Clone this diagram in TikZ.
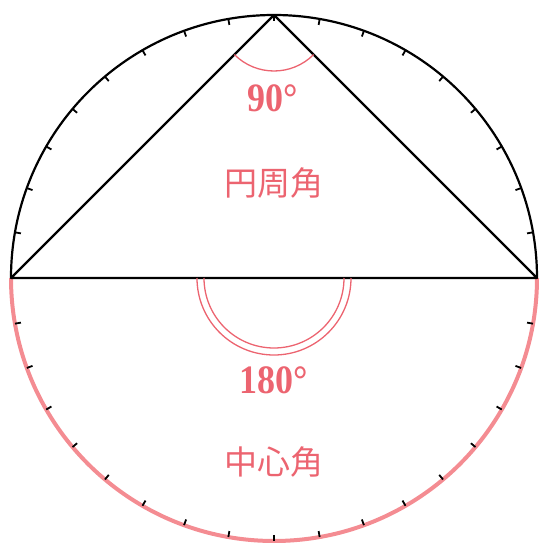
\documentclass[tikz,border=0pt]{standalone}
\usepackage{fontspec}
\setmainfont{Liberation Serif}
\newfontfamily\jpfont{Noto Sans CJK JP}
\definecolor{angred}{RGB}{236,100,112}
\definecolor{arcred}{RGB}{244,140,146}
\begin{document}
\begin{tikzpicture}[x=1pt, y=1pt,
  rim/.style={draw=black, line width=2.2pt, line join=round},
  dial/.style={draw=black, line width=1.8pt},
  angarc/.style={draw=angred, line width=1.3pt},
  lbl/.style={text=angred, font=\fontsize{36}{36}\selectfont\bfseries, yscale=1.12, transform shape},
  jp/.style={text=angred, font=\fontsize{33}{33}\selectfont\jpfont}
]
\useasboundingbox (0,0) rectangle (541,544);
\coordinate (O) at (274,266);
\coordinate (A) at (11,266);
\coordinate (B) at (537,266);
\coordinate (C) at (274,529);
% circle: upper half black, lower half red
\draw[rim] (B) arc[start angle=0, end angle=180, radius=263];
\draw[arcred, line width=4pt] (A) arc[start angle=180, end angle=360, radius=263];
\foreach \a in {10,20,...,170,190,200,...,350}
  \draw[dial] (O) ++(\a:257) -- ++(\a:6);
% triangle on the diameter
\draw[rim] (A) -- (C) -- (B) -- cycle;
% angle marks
\draw[angarc] ([shift={(225:56)}]C) arc[start angle=225, end angle=315, radius=56];
\draw[angarc] ([shift={(180:70)}]O) arc[start angle=180, end angle=360, radius=70];
\draw[angarc] ([shift={(180:77)}]O) arc[start angle=180, end angle=360, radius=77];
% labels
\node[lbl] (deg90) at (273,446) {90°};
\node[jp] (enshu) at (274,361) {円周角};
\node[lbl] (deg180) at (274,164) {180°};
\node[jp] (chushin) at (274,82) {中心角};
\end{tikzpicture}
\end{document}
